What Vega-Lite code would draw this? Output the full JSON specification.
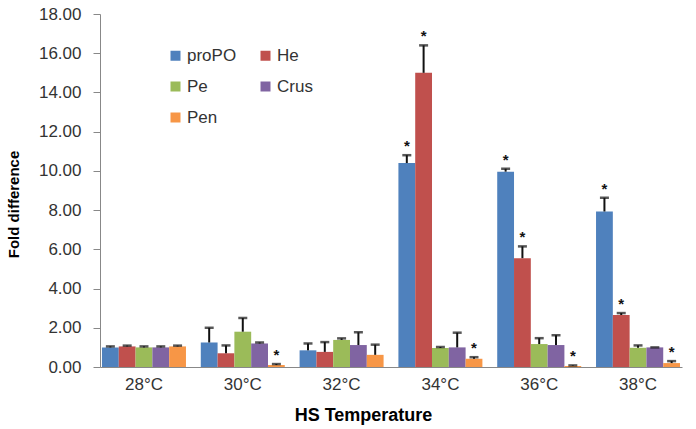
{
  "$schema": "https://vega.github.io/schema/vega-lite/v6.json",
  "width": 582,
  "height": 353,
  "autosize": {"type": "none"},
  "padding": {"left": 100, "top": 14, "right": 14, "bottom": 62},
  "config": {
    "view": {"stroke": null},
    "font": "Liberation Sans",
    "axis": {"grid": false, "domainColor": "#888888", "tickColor": "#888888", "labelColor": "#333333", "titleColor": "#000000", "labelFontSize": 17, "titleFontWeight": "bold"},
    "axisY": {"values": [0, 2, 4, 6, 8, 10, 12, 14, 16, 18], "labelOverlap": false, "format": ".2f", "tickSize": 7, "labelPadding": 12, "title": "Fold difference", "titleFontSize": 15, "titleX": -82, "titleY": 190, "titleBaseline": "alphabetic", "titleAlign": "center", "titleAngle": -90}
  },
  "data": {
    "values": [
      {"temp": "28°C", "gene": "proPO", "value": 1.0, "err": 0.05, "star": false},
      {"temp": "28°C", "gene": "He", "value": 1.05, "err": 0.04, "star": false},
      {"temp": "28°C", "gene": "Pe", "value": 1.0, "err": 0.05, "star": false},
      {"temp": "28°C", "gene": "Crus", "value": 1.0, "err": 0.05, "star": false},
      {"temp": "28°C", "gene": "Pen", "value": 1.05, "err": 0.04, "star": false},
      {"temp": "30°C", "gene": "proPO", "value": 1.25, "err": 0.75, "star": false},
      {"temp": "30°C", "gene": "He", "value": 0.7, "err": 0.4, "star": false},
      {"temp": "30°C", "gene": "Pe", "value": 1.8, "err": 0.7, "star": false},
      {"temp": "30°C", "gene": "Crus", "value": 1.2, "err": 0.05, "star": false},
      {"temp": "30°C", "gene": "Pen", "value": 0.1, "err": 0.05, "star": true},
      {"temp": "32°C", "gene": "proPO", "value": 0.85, "err": 0.35, "star": false},
      {"temp": "32°C", "gene": "He", "value": 0.77, "err": 0.5, "star": false},
      {"temp": "32°C", "gene": "Pe", "value": 1.38, "err": 0.08, "star": false},
      {"temp": "32°C", "gene": "Crus", "value": 1.12, "err": 0.65, "star": false},
      {"temp": "32°C", "gene": "Pen", "value": 0.62, "err": 0.52, "star": false},
      {"temp": "34°C", "gene": "proPO", "value": 10.4, "err": 0.4, "star": true},
      {"temp": "34°C", "gene": "He", "value": 15.0, "err": 1.4, "star": true},
      {"temp": "34°C", "gene": "Pe", "value": 0.97, "err": 0.05, "star": false},
      {"temp": "34°C", "gene": "Crus", "value": 1.0, "err": 0.75, "star": false},
      {"temp": "34°C", "gene": "Pen", "value": 0.42, "err": 0.08, "star": true},
      {"temp": "36°C", "gene": "proPO", "value": 9.96, "err": 0.15, "star": true},
      {"temp": "36°C", "gene": "He", "value": 5.55, "err": 0.6, "star": true},
      {"temp": "36°C", "gene": "Pe", "value": 1.17, "err": 0.3, "star": false},
      {"temp": "36°C", "gene": "Crus", "value": 1.12, "err": 0.5, "star": false},
      {"temp": "36°C", "gene": "Pen", "value": 0.05, "err": 0.03, "star": true},
      {"temp": "38°C", "gene": "proPO", "value": 7.93, "err": 0.7, "star": true},
      {"temp": "38°C", "gene": "He", "value": 2.65, "err": 0.1, "star": true},
      {"temp": "38°C", "gene": "Pe", "value": 0.98, "err": 0.12, "star": false},
      {"temp": "38°C", "gene": "Crus", "value": 1.0, "err": 0.0, "star": false},
      {"temp": "38°C", "gene": "Pen", "value": 0.2, "err": 0.1, "star": true}
    ]
  },
  "transform": [{"calculate": "datum.value + datum.err", "as": "upper"}],
  "encoding": {
    "x": {"field": "temp", "type": "nominal", "sort": null, "scale": {"paddingInner": 0.15, "paddingOuter": 0.02}, "axis": {"title": "HS Temperature", "titleFontSize": 18, "titleX": 263, "titleY": 53, "titleBaseline": "alphabetic", "titleAlign": "center", "labelAngle": 0, "ticks": false, "labelPadding": 9}},
    "xOffset": {"field": "gene", "type": "nominal", "sort": ["proPO", "He", "Pe", "Crus", "Pen"], "scale": {"paddingInner": 0}}
  },
  "layer": [
    {
      "mark": {"type": "bar"},
      "encoding": {
        "y": {"field": "value", "type": "quantitative", "scale": {"domain": [0, 18]}, "axis": {"title": "Fold difference", "values": [0, 2, 4, 6, 8, 10, 12, 14, 16, 18], "tickCount": 10, "labelOverlap": false}},
        "color": {"field": "gene", "type": "nominal", "sort": ["proPO", "Pe", "Pen", "He", "Crus"], "scale": {"domain": ["proPO", "Pe", "Pen", "He", "Crus"], "range": ["#4F81BD", "#9BBB59", "#F79646", "#C0504D", "#8064A2"]}, "legend": {"title": null, "orient": "none", "legendX": 67, "legendY": 33, "columns": 2, "columnPadding": 20, "rowPadding": 13, "symbolType": "square", "symbolSize": 100, "symbolStrokeWidth": 0, "labelOffset": 3, "labelFontSize": 17, "labelColor": "#333333", "symbolOpacity": 1}}
      }
    },
    {
      "mark": {"type": "rule", "color": "#111111", "strokeWidth": 2},
      "encoding": {"y": {"field": "value", "type": "quantitative", "axis": {"title": "Fold difference", "values": [0, 2, 4, 6, 8, 10, 12, 14, 16, 18], "tickCount": 10, "labelOverlap": false}}, "y2": {"field": "upper"}}
    },
    {
      "mark": {"type": "tick", "color": "#111111", "thickness": 2.5, "size": 9},
      "encoding": {"y": {"field": "upper", "type": "quantitative", "axis": {"title": "Fold difference", "values": [0, 2, 4, 6, 8, 10, 12, 14, 16, 18], "tickCount": 10, "labelOverlap": false}}}
    },
    {
      "transform": [{"filter": "datum.star"}],
      "mark": {"type": "text", "text": "*", "fontSize": 15, "fontWeight": "bold", "dy": -1, "baseline": "bottom", "color": "#111111"},
      "encoding": {"y": {"field": "upper", "type": "quantitative", "axis": {"title": "Fold difference", "values": [0, 2, 4, 6, 8, 10, 12, 14, 16, 18], "tickCount": 10, "labelOverlap": false}}}
    }
  ]
}
